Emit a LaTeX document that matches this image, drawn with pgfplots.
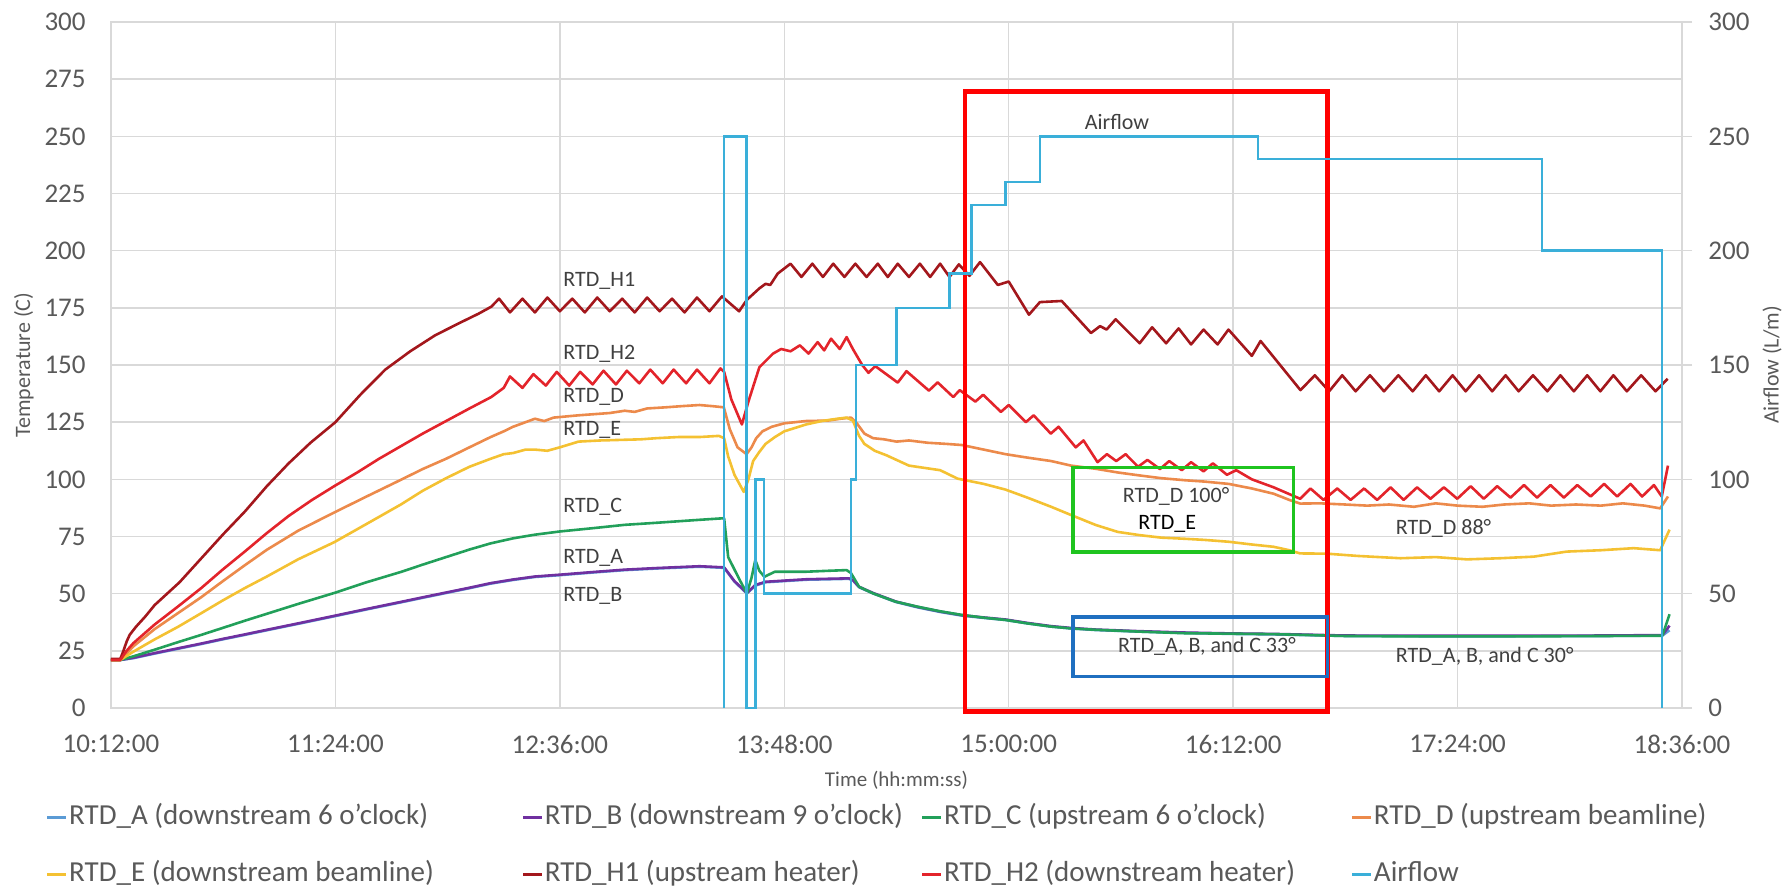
\documentclass[border=0pt]{standalone}
\usepackage{pgfplots}
\pgfplotsset{compat=1.18}
\usepackage{fontspec}
\setmainfont{Carlito}
\definecolor{cA}{HTML}{5B9BD5}
\definecolor{cB}{HTML}{7030A0}
\definecolor{cC}{HTML}{22A05A}
\definecolor{cD}{HTML}{EC8A4B}
\definecolor{cE}{HTML}{F4C132}
\definecolor{cH1}{HTML}{A3171C}
\definecolor{cH2}{HTML}{E3242B}
\definecolor{cAir}{HTML}{3AAFD9}
\definecolor{gridc}{HTML}{D9D9D9}
\definecolor{tickc}{HTML}{595959}
\definecolor{annc}{HTML}{404040}
\definecolor{boxR}{HTML}{FF0000}
\definecolor{boxG}{HTML}{1FC41F}
\definecolor{boxB}{HTML}{1F6FC0}
\begin{document}
\begin{tikzpicture}
\begin{axis}[
  name=ax,
  scale only axis, width=785.5pt, height=343pt,
  xmin=0, xmax=504, ymin=0, ymax=300,
  xtick={0,72,...,504},
  xticklabels={10:12:00,11:24:00,12:36:00,13:48:00,15:00:00,16:12:00,17:24:00,18:36:00},
  ytick={0,25,...,300},
  grid=major, grid style={gridc, line width=0.7pt},
  axis line style={gridc, line width=0.7pt},
  major tick length=0pt, tick style={draw=none},
  /pgf/number format/assume math mode=true,
  ticklabel style={font=\fontsize{13.5}{16}\selectfont, text=tickc},
  yticklabel style={anchor=east, inner sep=0pt, xshift=-12.5pt},
  xticklabel style={anchor=north, inner sep=0pt, yshift=-13.5pt},
  ylabel={Temperature (C)},
  ylabel style={at={(axis description cs:-0.0554,0.5)}, anchor=center, font=\fontsize{11}{13}\selectfont, text=tickc},
  xlabel={Time (hh:mm:ss)},
  xlabel style={at={(axis description cs:0.5,-0.105)}, anchor=center, font=\fontsize{10.5}{12}\selectfont, text=tickc},
  clip=false,
  legend columns=4,
  legend image code/.code={\draw[#1, line width=1.7pt] (0pt,0pt) -- (9.5pt,0pt);},
  legend style={at={(axis description cs:-0.0415,-0.1385)}, anchor=north west, draw=none, fill=none,
    inner sep=0pt, outer sep=0pt, row sep=14pt,
    font=\fontsize{14.5}{17}\selectfont, text=tickc,
    nodes={inner sep=0.5pt, text height=10pt, text depth=3.5pt, anchor=west},
    /tikz/every even column/.append style={column sep=0pt}},
  legend cell align=left,
  every axis plot/.append style={line width=1.3pt, line join=round},
]
% RTD_A
\addplot[cA] coordinates {(0,21)(3,21)(7.2,21.8)(14,23.8)(21.5,25.9)(29,28)(35.8,30)(43,32)(50,34)(60,36.8)(71.6,40.1)(82,43.1)(93,46.2)(100,48.2)(107.5,50.3)(115,52.4)(121.8,54.4)(129,56)(136,57.3)(144,58.1)(155,59.3)(164.8,60.3)(175,61)(188.8,61.8)(196.7,61.3)(200,55.3)(204,50.1)(206.7,53.5)(210,55)(223,56.1)(236.7,56.5)(238,55.8)(240,52.8)(244.5,50.1)(251.7,46.4)(258.8,44)(266,42)(273,40.4)(280,39.4)(287,38.5)(294,37)(301.6,35.6)(308,34.8)(316,34.1)(330,33.4)(344.6,32.8)(360,32.4)(373,32.2)(395.8,31.5)(420,31.4)(450,31.4)(480,31.5)(497.7,31.7)(500,34)};
\addlegendentry{\makebox[225.6pt][l]{RTD\_A (downstream 6 o'clock)}}
% RTD_B
\addplot[cB] coordinates {(0,21)(3,21)(7.2,22)(14,24)(21.5,26.1)(29,28.2)(35.8,30.2)(43,32.2)(50,34.2)(60,37)(71.6,40.3)(82,43.3)(93,46.4)(100,48.4)(107.5,50.5)(115,52.6)(121.8,54.6)(129,56.2)(136,57.5)(144,58.3)(155,59.5)(164.8,60.5)(175,61.2)(188.8,62)(196.7,61.5)(200,55.5)(204,50.3)(206.7,53.8)(210,55.2)(223,56.3)(236.7,56.7)(238,56)(240,53)(244.5,50.3)(251.7,46.6)(258.8,44.2)(266,42.2)(273,40.6)(280,39.6)(287,38.7)(294,37.2)(301.6,35.8)(308,35)(316,34.3)(330,33.6)(344.6,33)(360,32.6)(373,32.4)(395.8,31.7)(420,31.6)(450,31.6)(480,31.7)(497.7,31.9)(500,36)};
\addlegendentry{\makebox[187.5pt][l]{RTD\_B (downstream 9 o'clock)}}
% RTD_C
\addplot[cC] coordinates {(0,21)(3,21)(7.2,22.6)(14,25.5)(21.5,28.8)(29,32)(35.8,35)(43,38.2)(50,41.2)(60,45.5)(71.6,50.3)(82,55)(93,59.5)(100,62.7)(107.5,66)(115,69.3)(121.8,72)(129,74.2)(136,75.8)(144,77.2)(155,78.7)(164.8,80.1)(175,81)(188.8,82.3)(196.7,83)(198,66)(201.7,56)(204,50.1)(205.5,57)(206.7,64.7)(208,60)(209.6,57.4)(213,59.6)(223,59.6)(230,60)(236,60.3)(237.4,59)(240,53)(244.5,50.1)(251.7,46.5)(258.8,44.3)(266,42.3)(273,40.7)(280,39.5)(287,38.5)(294,37)(301.6,35.6)(308,34.8)(316,34.2)(330,33.4)(344.6,32.7)(360,32.5)(373,32.3)(395.8,31.5)(420,31.3)(450,31.3)(480,31.5)(497.7,31.6)(500,41)};
\addlegendentry{\makebox[202.7pt][l]{RTD\_C (upstream 6 o'clock)}}
% RTD_D
\addplot[cD] coordinates {(0,21)(3,21)(7.2,27)(14,34.5)(21.5,41.5)(29,48.5)(35.8,55.4)(43,62.5)(50,69.2)(60,77.5)(71.6,85.5)(82,92.5)(93,99.8)(100,104.5)(107.5,109)(115,114)(121.8,118.5)(126,121)(129,123)(132,124.5)(136,126.5)(139,125.5)(142,127)(146,127.5)(150,128)(155,128.5)(160,129)(164.8,130)(168,129.5)(172,131)(178,131.5)(183,132)(188.8,132.5)(193,132)(196.6,131.5)(198.5,122)(201,114)(203.9,111)(205.5,114)(207,118)(209,121)(212,123)(216,124.5)(223,125.5)(230,125.7)(234,126.5)(237.4,127)(239,125)(241.7,120)(244.5,118)(248,117.5)(252,116.5)(256,117)(262,116)(268,115.5)(273,115)(280,113)(287,111)(294,109.5)(301.6,108)(308,106)(316,104.6)(323,103)(330,101.7)(337,100.5)(344.6,99.6)(351,99)(358.6,98)(366,96)(373,93.7)(378,91)(381.5,89.4)(388,89.5)(395.8,89)(403,88.5)(410,89)(418,88)(425,89.5)(432,88.5)(440,88)(447,89)(455,89.5)(462,88.5)(470,89)(478,88.5)(485,89.5)(492,88.5)(497,87.3)(499.5,92.5)};
\addlegendentry{RTD\_D (upstream beamline)}
% RTD_E
\addplot[cE] coordinates {(0,21)(3,21)(7,24.5)(14,30)(21.5,35.5)(29,41.5)(35.8,47)(43,52.5)(50,57.5)(60,65)(71.6,72.5)(82,80.5)(93,89)(100,95)(107.5,100.5)(115,105.5)(121.8,109)(126,111)(129,111.5)(133,113)(136,113)(140,112.5)(144,114)(150,116.5)(157,117)(164.8,117.3)(170,117.5)(175,118)(182,118.5)(188.8,118.5)(195,119)(196.7,118)(198,110)(200,102)(203,94.5)(204.5,100)(206,108)(208,112)(210,115.5)(213,118.5)(216,121)(223,124)(228,125.5)(233,126.5)(236,127)(238,125.7)(240,119)(241.7,115.5)(245,112.5)(248.8,110.5)(252,108.5)(256,106)(261,105)(266,104)(271.6,100.3)(280,98)(287,95.5)(294,92)(301.6,88)(308.7,84)(316,80)(323,77)(330,75.6)(337,74.5)(344.6,74)(351,73.5)(358.6,72.7)(366,71.5)(373,70.5)(378,69)(381.5,67.6)(390,67.5)(400,66.5)(413.7,65.5)(425,66)(435,65)(445.8,65.5)(456.5,66.2)(467,68.4)(478,69)(488.5,69.9)(497,69)(500,78)};
\addlegendentry{\makebox[225.6pt][l]{RTD\_E (downstream beamline)}}
% RTD_H1
\addplot[cH1] coordinates {(0,21.5)(3,21.5)(4,25)(5,29)(6,32)(8,35.5)(11,40)(14,45)(18,50)(22,55)(26,61)(30,67)(36,76)(43,86)(50,97)(57,107)(64,116)(72,125)(80,137)(88,148)(96,156)(104,163)(112,168.5)(118,172.5)(122,175.5)(124.5,179)(128,173)(132,179)(136,173)(140,179.5)(144,173.5)(148,179)(152,173)(156,179.5)(160,173.5)(164,179)(168,173)(172,179.5)(176,173.5)(180,179)(184,173)(188,179.5)(192,173.5)(196,180)(201.5,173.5)(204,178.5)(206,181)(208,183.5)(210,185.5)(211.5,185)(213.9,190)(218,194.3)(221.5,188.5)(225,194.3)(228.4,188.5)(231.7,194.3)(235.3,188.5)(238.8,194.3)(242.4,188.5)(246,194.3)(249.2,188.5)(252.4,194.3)(256,188.5)(259.5,194.3)(262.8,188.5)(266,194.3)(269,188.5)(272,194)(275.4,189)(278.8,195)(284.5,185)(288,186.5)(294.5,172)(298,177.5)(305,178)(314.4,164)(317.3,167)(319.4,165.5)(322.3,170)(330,159.5)(334,166.5)(338.5,159.5)(342.5,166)(346.5,159)(350.5,165.5)(355,159)(358.5,165.5)(366,154)(368.8,160.5)(381.6,139)(386.2,145.5)(390.8,138.5)(395,145.5)(399.3,138.5)(403.9,145.5)(408.4,138.5)(413,145.5)(417.6,138.5)(421.8,145.5)(426.1,138.5)(430.4,145.5)(434.6,138.5)(438.9,145.5)(443.1,138.5)(447.4,145.5)(451.6,138.5)(456.2,145.5)(460.8,138.5)(465,145.5)(469.3,138.5)(473.6,145.5)(477.8,138.5)(482,145.5)(486.3,138.5)(490.9,145.5)(495.5,138.5)(499.4,144)};
\addlegendentry{\makebox[187.5pt][l]{RTD\_H1 (upstream heater)}}
% RTD_H2
\addplot[cH2] coordinates {(0,21)(3,21)(5,25)(7.2,28.4)(14,36.5)(21.5,44.4)(29,52.5)(35.8,60.5)(43,68.5)(50,76.5)(57,84)(64.5,91)(71.6,97)(79,103)(86,109)(93,114.5)(100,120)(107.5,125.5)(115,131)(122,136)(126,140)(128,145)(132,140)(135.5,146)(139.5,141)(143,147)(147,141)(150.5,147)(154.5,141.5)(158,147.5)(162,141.5)(165.5,147.5)(169.5,142)(173,148)(177,142)(180.5,148)(184.5,142)(188,148)(192,142)(195.5,148.5)(196.7,147)(199,135)(202.4,124)(204.6,134.5)(208,149)(212.4,155)(215,157)(218,156)(221,158.6)(223.8,155)(226.7,160)(228.8,156.4)(231,161.5)(233.8,157)(236,162.2)(238,157)(241,150)(243,146.6)(245.2,149.5)(252.4,142.3)(255.2,147.3)(262.4,138.8)(265.2,142.4)(270.2,136)(272.3,139)(277.3,134)(279.8,137)(285.5,129.5)(288,132.5)(293.5,125)(296,128)(301.5,120)(304,123)(309.5,114)(312,117)(316.5,107.5)(319.5,111)(322.5,108)(325.5,111)(329.5,105.5)(332.5,108.5)(336.5,104.5)(339.5,108)(343.5,104)(346.5,107.5)(350.5,103.5)(353.5,107)(358,102)(361,104)(366,100)(373,96.5)(381.5,91.5)(384.8,96)(389,91)(393.4,96)(397.7,91)(402,96)(406.2,91)(410.5,96.5)(414.7,91)(419,96.5)(423.3,91.5)(427.6,96.5)(431.9,91.5)(436.2,97)(440.4,91.5)(444.7,97)(449,92)(453.3,97.5)(457.5,92)(461.8,97.5)(466.1,92)(470.4,97.5)(474.7,92.5)(479,98)(483.2,92.5)(487.5,98)(491.2,92.5)(495,97.5)(497.5,92.5)(499.5,106)};
\addlegendentry{\makebox[202.7pt][l]{RTD\_H2 (downstream heater)}}
\addlegendimage{cAir}
\addlegendentry{Airflow}
% annotations
\begin{scope}[every node/.style={font=\fontsize{11}{13}\selectfont, text=annc, inner sep=0pt, anchor=west}]
\node at (axis cs:145,187) {RTD\_H1};
\node at (axis cs:145,155) {RTD\_H2};
\node at (axis cs:145,136) {RTD\_D};
\node at (axis cs:145,121.5) {RTD\_E};
\node at (axis cs:145,88) {RTD\_C};
\node at (axis cs:145,65.6) {RTD\_A};
\node at (axis cs:145,48.8) {RTD\_B};
\node at (axis cs:312.3,256.3) {Airflow};
\node at (axis cs:324.5,92.3) {RTD\_D 100°};
\node[text=black] at (axis cs:329.5,80.7) {RTD\_E};
\node at (axis cs:323,26.9) {RTD\_A, B, and C 33°};
\node at (axis cs:412.1,78.6) {RTD\_D 88°};
\node at (axis cs:412.1,22.6) {RTD\_A, B, and C 30°};
\end{scope}
\draw[boxR, line width=2.4pt] (axis cs:274,-1.5) rectangle (axis cs:390.3,269.5);
\draw[boxG, line width=1.8pt] (axis cs:308.7,68.3) rectangle (axis cs:379.3,105.1);
\draw[boxB, line width=1.8pt] (axis cs:308.7,13.8) rectangle (axis cs:390.3,39.7);
\end{axis}
\begin{axis}[
  scale only axis, width=785.5pt, height=343pt,
  at={(ax.south west)}, anchor=south west,
  xmin=0, xmax=504, ymin=0, ymax=300,
  axis x line=none, axis y line*=right,
  ytick={0,50,...,300},
  tick align=outside, major tick length=5pt,
  ytick style={gridc, line width=0.7pt},
  axis line style={gridc, line width=0.7pt},
  /pgf/number format/assume math mode=true,
  yticklabel style={font=\fontsize{13.5}{16}\selectfont, text=tickc, anchor=west, inner sep=0pt, xshift=8pt},
  ylabel={Airflow (L/m)},
  ylabel style={at={(axis description cs:1.0573,0.5)}, anchor=center, font=\fontsize{11}{13}\selectfont, text=tickc},
]
\addplot[cAir, line width=1.2pt] coordinates {(196.7,0)(196.7,250)(203.9,250)(203.9,0)(206.7,0)(206.7,100)(209.5,100)(209.5,50)(237.4,50)(237.4,100)(239,100)(239,150)(252,150)(252,175)(269,175)(269,190)(276,190)(276,220)(287,220)(287,230)(298,230)(298,250)(368,250)(368,240)(459,240)(459,200)(497.6,200)(497.6,0)};
\end{axis}
\pgfresetboundingbox
\path ([xshift=-55.5pt,yshift=-91pt]ax.south west) rectangle ([xshift=54pt,yshift=11pt]ax.north east);
\end{tikzpicture}
\end{document}
